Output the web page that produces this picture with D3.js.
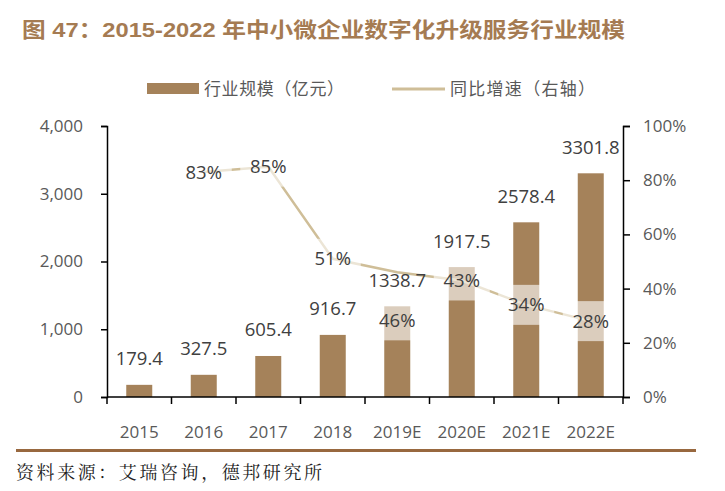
<!DOCTYPE html>
<html><head><meta charset="utf-8">
<script src="https://cdn.jsdelivr.net/npm/d3@7"></script>
<style>body{margin:0;background:#fff}svg{display:block}</style>
</head><body>
<svg id="c" width="725" height="491"></svg>
<script>
const categories = ["2015","2016","2017","2018","2019E","2020E","2021E","2022E"];
const scaleValues = [179.4, 327.5, 605.4, 916.7, 1338.7, 1917.5, 2578.4, 3301.8];
const growthValues = [null, 0.83, 0.85, 0.51, 0.46, 0.43, 0.34, 0.28];
const leftTicks = [0, 1000, 2000, 3000, 4000];
const rightTicks = [0, 0.2, 0.4, 0.6, 0.8, 1.0];
const titleText = "图 47：2015-2022 年中小微企业数字化升级服务行业规模";
const sourceText = "资料来源：艾瑞咨询，德邦研究所";
const legendLabels = ["行业规模（亿元）", "同比增速（右轴）"];

const svg = d3.select("#c");
const pLeft = 107, pRight = 623, pTop = 126, pBottom = 397;
const barColor = "#a5825a", lineColor = "#cfbe98";
const numFont = "'Open Sans','Noto Sans',sans-serif";
const cjkFont = "'Noto Sans CJK SC','Noto Sans',sans-serif";

const xb = d3.scaleBand().domain(categories).range([pLeft, pRight]);
const yL = d3.scaleLinear().domain([0, 4000]).range([pBottom, pTop]);
const yR = d3.scaleLinear().domain([0, 1]).range([pBottom, pTop]);
const cx = c => xb(c) + xb.bandwidth() / 2;

// title
svg.append("text").attr("x", 22).attr("y", 37).text(titleText)
  .attr("font-family", "'Liberation Sans','Noto Sans CJK SC',sans-serif")
  .attr("font-weight", "bold").attr("font-size", 21).attr("fill", "#a57b52")
  .attr("textLength", 603).attr("lengthAdjust", "spacingAndGlyphs");

// legend
svg.append("rect").attr("x", 147).attr("y", 83).attr("width", 52).attr("height", 11).attr("fill", barColor);
svg.append("text").attr("x", 204).attr("y", 95).text(legendLabels[0])
  .attr("font-family", cjkFont).attr("font-size", 17).attr("fill", "#595959")
  .attr("textLength", 140).attr("lengthAdjust", "spacing");
svg.append("line").attr("x1", 392).attr("x2", 445).attr("y1", 89).attr("y2", 89)
  .attr("stroke", lineColor).attr("stroke-width", 3);
svg.append("text").attr("x", 450).attr("y", 95).text(legendLabels[1])
  .attr("font-family", cjkFont).attr("font-size", 17).attr("fill", "#595959")
  .attr("textLength", 145).attr("lengthAdjust", "spacing");

// bars
svg.append("g").selectAll("rect").data(scaleValues).join("rect")
  .attr("x", (d, i) => cx(categories[i]) - 13)
  .attr("width", 26)
  .attr("y", d => yL(d)).attr("height", d => pBottom - yL(d))
  .attr("fill", barColor);

// axes
const axL = svg.append("g").attr("transform", `translate(${pLeft},0)`)
  .call(d3.axisLeft(yL).tickValues(leftTicks).tickSize(6).tickPadding(18).tickFormat(d3.format(",")));
const axR = svg.append("g").attr("transform", `translate(${pRight},0)`)
  .call(d3.axisRight(yR).tickValues(rightTicks).tickSize(7).tickPadding(13).tickFormat(d3.format(".0%")));
const axB = svg.append("g").attr("transform", `translate(0,${pBottom})`)
  .call(d3.axisBottom(xb).tickSize(0).tickPadding(29));
[axL, axR, axB].forEach(a => {
  a.select(".domain").attr("stroke", "#000").attr("stroke-width", 1.5);
  a.selectAll(".tick line").attr("stroke", "#000").attr("stroke-width", 1.5);
  a.selectAll("text").attr("font-family", numFont).attr("font-size", 17).attr("fill", "#595959");
});
axB.select(".domain").attr("d", `M${pLeft},0H${pRight}`);
// category separator ticks
svg.append("g").selectAll("line").data(categories.concat(["end"])).join("line")
  .attr("x1", (d, i) => pLeft + i * xb.step()).attr("x2", (d, i) => pLeft + i * xb.step())
  .attr("y1", pBottom).attr("y2", pBottom + 7).attr("stroke", "#000").attr("stroke-width", 1.5);

// growth line
const pts = growthValues.map((v, i) => ({v, c: categories[i]})).filter(d => d.v !== null);
const line = d3.line().x(d => cx(d.c)).y(d => yR(d.v));
svg.append("path").attr("d", line(pts)).attr("fill", "none")
  .attr("stroke", lineColor).attr("stroke-width", 2.5);

// value labels
svg.append("g").selectAll("text").data(scaleValues).join("text")
  .attr("x", (d, i) => cx(categories[i]))
  .attr("y", d => yL(d) - 26).attr("dy", "0.35em").attr("text-anchor", "middle")
  .attr("font-family", numFont).attr("font-size", 18.5).attr("fill", "#404040")
  .text(d => d3.format(".1f")(d));

// growth labels with translucent boxes
const pctShift = {"2019E": 48};
const gl = svg.append("g").selectAll("g").data(pts).join("g")
  .attr("transform", d => `translate(${cx(d.c)},${yR(d.v) + (pctShift[d.c] || 0)})`);
gl.append("rect").attr("x", -28).attr("y", -20).attr("width", 56).attr("height", 40)
  .attr("fill", "#fff").attr("fill-opacity", 0.6);
gl.append("text").attr("text-anchor", "middle").attr("dy", "0.35em")
  .attr("font-family", numFont).attr("font-size", 18.5).attr("fill", "#404040")
  .text(d => d3.format(".0%")(d.v));

// bottom rule and source
svg.append("rect").attr("x", 16).attr("y", 449).attr("width", 680).attr("height", 3).attr("fill", "#98683f");
svg.append("text").attr("x", 16).attr("y", 479).text(sourceText)
  .attr("font-family", "'Noto Serif CJK SC','Noto Sans CJK SC',serif").attr("font-size", 18).attr("fill", "#222")
  .attr("textLength", 306).attr("lengthAdjust", "spacing");
</script>
</body></html>
